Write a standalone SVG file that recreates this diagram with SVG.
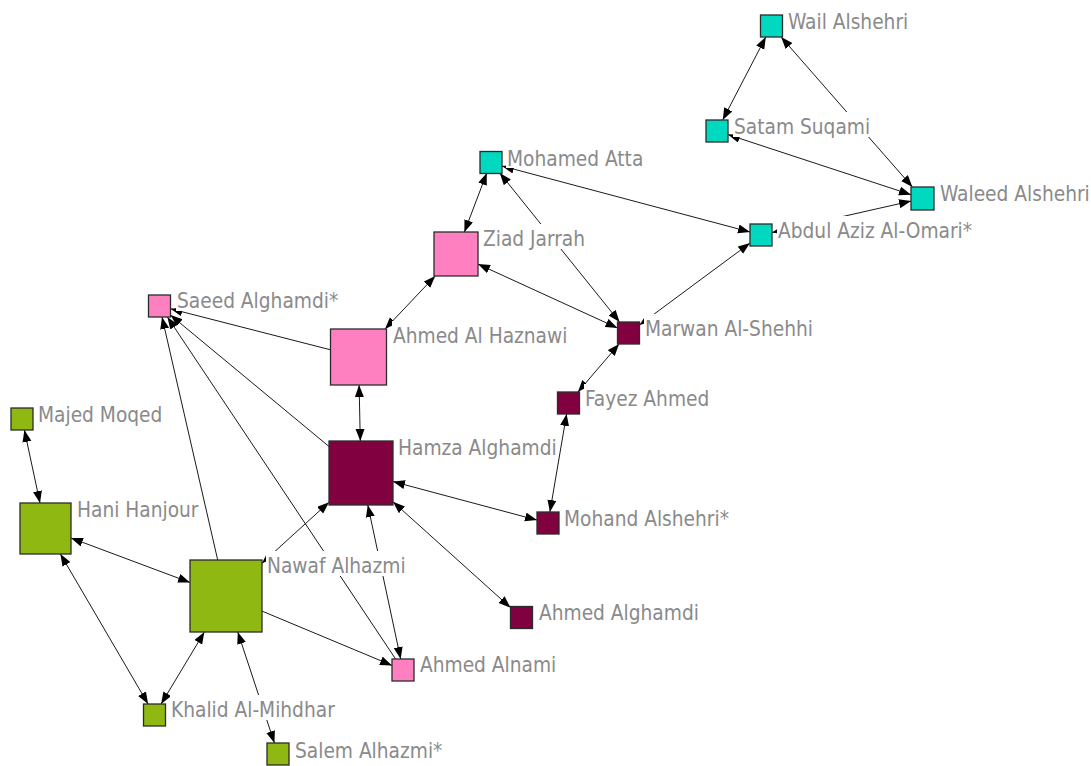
<svg xmlns="http://www.w3.org/2000/svg" width="1091" height="766" viewBox="0 0 1091 766">
  <defs>
    <marker id="arrow" markerUnits="userSpaceOnUse" markerWidth="13" markerHeight="10" refX="12" refY="4.5" orient="auto-start-reverse">
      <path d="M0,0 L12,4.5 L0,9 z" fill="#000"/>
    </marker>
    <style>
      .edge { stroke: #1a1a1a; stroke-width: 1; fill: none; }
      .both { marker-start: url(#arrow); marker-end: url(#arrow); }
      .one { marker-end: url(#arrow); }
      .node rect.box { stroke: #2b2b2b; stroke-width: 1.3; }
      .cyan { fill: #00d8c0; }
      .pink { fill: #ff80c0; }
      .maroon { fill: #800040; }
      .green { fill: #8fb812; }
      .lbg { fill: #ffffff; }
      .label { font-family: "DejaVu Sans Condensed", "DejaVu Sans", Verdana, sans-serif; font-stretch: condensed; font-size: 20.7px; fill: #8a8a8a; }
    </style>
  </defs>
  <rect width="1091" height="766" fill="#ffffff"/>

  <!-- connectors: center-to-center, clipped at box borders -->
  <g id="connectors">
    <line class="edge both" x1="765.8" y1="37" x2="722.7" y2="120"/>
    <line class="edge both" x1="781.1" y1="37" x2="912.4" y2="187"/>
    <line class="edge both" x1="728" y1="134.6" x2="911" y2="194.7"/>
    <line class="edge both" x1="772" y1="232.5" x2="911" y2="201.1"/>
    <line class="edge both" x1="502" y1="166" x2="750" y2="232"/>
    <line class="edge both" x1="486.8" y1="173" x2="464.4" y2="232"/>
    <line class="edge both" x1="499.8" y1="173" x2="619.6" y2="322"/>
    <line class="edge both" x1="478" y1="264.1" x2="617.5" y2="328"/>
    <line class="edge both" x1="639.5" y1="324.9" x2="750" y2="243.1"/>
    <line class="edge both" x1="435.2" y1="276" x2="385" y2="329"/>
    <line class="edge one" x1="330.5" y1="349.8" x2="170.5" y2="308.8"/>
    <line class="edge both" x1="359.1" y1="385" x2="360.3" y2="441"/>
    <line class="edge one" x1="329" y1="446.5" x2="170.5" y2="315.1"/>
    <line class="edge one" x1="217.7" y1="560" x2="162" y2="317"/>
    <line class="edge one" x1="395.6" y1="659" x2="167.4" y2="317"/>
    <line class="edge both" x1="393" y1="481.6" x2="537" y2="520.1"/>
    <line class="edge both" x1="393" y1="501.8" x2="510.5" y2="607.6"/>
    <line class="edge both" x1="367.8" y1="505" x2="400.7" y2="659"/>
    <line class="edge both" x1="329" y1="502.2" x2="262" y2="563.2"/>
    <line class="edge both" x1="566.6" y1="414" x2="549.9" y2="512"/>
    <line class="edge both" x1="577.9" y1="392" x2="619.1" y2="344"/>
    <line class="edge both" x1="24.4" y1="430" x2="40" y2="503"/>
    <line class="edge both" x1="71" y1="538" x2="190" y2="582.5"/>
    <line class="edge both" x1="60.4" y1="554" x2="148.1" y2="704"/>
    <line class="edge both" x1="161.1" y1="704" x2="204.4" y2="632"/>
    <line class="edge both" x1="237.8" y1="632" x2="274.4" y2="743"/>
    <line class="edge one" x1="262" y1="611.1" x2="392" y2="665.4"/>
  </g>

  <!-- nodes: box plus a label on a white backing -->
  <g id="wail-alshehri" class="node">
    <rect class="box cyan" x="760.5" y="15" width="22" height="22"/>
    <rect class="lbg" x="787" y="7" width="122" height="25"/>
    <text class="label" x="788" y="29">Wail Alshehri</text>
  </g>
  <g id="satam-suqami" class="node">
    <rect class="box cyan" x="706" y="120" width="22" height="22"/>
    <rect class="lbg" x="733" y="112" width="136" height="25"/>
    <text class="label" x="734" y="134">Satam Suqami</text>
  </g>
  <g id="waleed-alshehri" class="node">
    <rect class="box cyan" x="911" y="187" width="23" height="23"/>
    <rect class="lbg" x="939" y="179" width="151" height="25"/>
    <text class="label" x="940" y="201">Waleed Alshehri</text>
  </g>
  <g id="abdul-aziz-al-omari" class="node">
    <rect class="box cyan" x="750" y="224" width="22" height="22"/>
    <rect class="lbg" x="777" y="216" width="193" height="25"/>
    <text class="label" x="778" y="238">Abdul Aziz Al-Omari*</text>
  </g>
  <g id="mohamed-atta" class="node">
    <rect class="box cyan" x="480" y="151.5" width="22" height="22"/>
    <rect class="lbg" x="506" y="144" width="137" height="24"/>
    <text class="label" x="507" y="166">Mohamed Atta</text>
  </g>
  <g id="ziad-jarrah" class="node">
    <rect class="box pink" x="434" y="232" width="44" height="44"/>
    <rect class="lbg" x="482" y="224" width="103" height="25"/>
    <text class="label" x="483" y="246">Ziad Jarrah</text>
  </g>
  <g id="marwan-al-shehhi" class="node">
    <rect class="box maroon" x="617.5" y="322" width="22" height="22"/>
    <rect class="lbg" x="644" y="314" width="168" height="25"/>
    <text class="label" x="645" y="336">Marwan Al-Shehhi</text>
  </g>
  <g id="saeed-alghamdi" class="node">
    <rect class="box pink" x="148.5" y="295" width="22" height="22"/>
    <rect class="lbg" x="176" y="286" width="161" height="25"/>
    <text class="label" x="177" y="308">Saeed Alghamdi*</text>
  </g>
  <g id="ahmed-al-haznawi" class="node">
    <rect class="box pink" x="330.5" y="329" width="56" height="56"/>
    <rect class="lbg" x="392" y="321" width="174" height="25"/>
    <text class="label" x="393" y="343">Ahmed Al Haznawi</text>
  </g>
  <g id="hamza-alghamdi" class="node">
    <rect class="box maroon" x="329" y="441" width="64" height="64"/>
    <rect class="lbg" x="397" y="433" width="158" height="25"/>
    <text class="label" x="398" y="455">Hamza Alghamdi</text>
  </g>
  <g id="fayez-ahmed" class="node">
    <rect class="box maroon" x="557.5" y="392" width="22" height="22"/>
    <rect class="lbg" x="584" y="384" width="126" height="25"/>
    <text class="label" x="585" y="406">Fayez Ahmed</text>
  </g>
  <g id="mohand-alshehri" class="node">
    <rect class="box maroon" x="537" y="512" width="22" height="22"/>
    <rect class="lbg" x="563" y="504" width="165" height="25"/>
    <text class="label" x="564" y="526">Mohand Alshehri*</text>
  </g>
  <g id="ahmed-alghamdi" class="node">
    <rect class="box maroon" x="510.5" y="606.5" width="22" height="22"/>
    <rect class="lbg" x="538" y="598" width="160" height="25"/>
    <text class="label" x="539" y="620">Ahmed Alghamdi</text>
  </g>
  <g id="majed-moqed" class="node">
    <rect class="box green" x="11" y="408" width="22" height="22"/>
    <rect class="lbg" x="37" y="400" width="125" height="25"/>
    <text class="label" x="38" y="422">Majed Moqed</text>
  </g>
  <g id="hani-hanjour" class="node">
    <rect class="box green" x="20" y="503" width="51" height="51"/>
    <rect class="lbg" x="76" y="495" width="122" height="25"/>
    <text class="label" x="77" y="517">Hani Hanjour</text>
  </g>
  <g id="nawaf-alhazmi" class="node">
    <rect class="box green" x="190" y="560" width="72" height="72"/>
    <rect class="lbg" x="266" y="551" width="139" height="25"/>
    <text class="label" x="267" y="573">Nawaf Alhazmi</text>
  </g>
  <g id="ahmed-alnami" class="node">
    <rect class="box pink" x="392" y="659" width="22" height="22"/>
    <rect class="lbg" x="419" y="650" width="136" height="25"/>
    <text class="label" x="420" y="672">Ahmed Alnami</text>
  </g>
  <g id="khalid-al-mihdhar" class="node">
    <rect class="box green" x="143.5" y="704" width="22" height="22"/>
    <rect class="lbg" x="170" y="695" width="164" height="25"/>
    <text class="label" x="171" y="717">Khalid Al-Mihdhar</text>
  </g>
  <g id="salem-alhazmi" class="node">
    <rect class="box green" x="267" y="743" width="22" height="22"/>
    <rect class="lbg" x="294" y="736" width="148" height="25"/>
    <text class="label" x="295" y="758">Salem Alhazmi*</text>
  </g>
</svg>
